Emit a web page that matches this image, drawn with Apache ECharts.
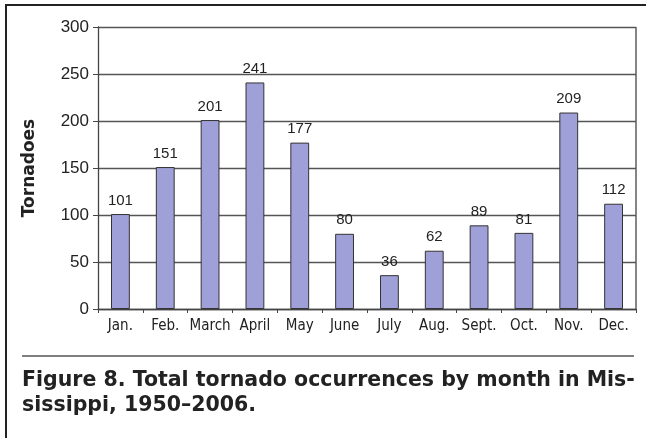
<!DOCTYPE html>
<html><head><meta charset="utf-8">
<script src="https://cdn.jsdelivr.net/npm/echarts@6/dist/echarts.min.js"></script>
<style>
html,body{margin:0;padding:0;background:#fff;}
#wrap{position:absolute;left:0;top:0;width:646px;height:438px;}
#border{position:absolute;left:5px;top:4px;width:650px;height:450px;border-left:2px solid #222;border-top:2px solid #222;}
#chart{position:absolute;left:0;top:0;width:646px;height:438px;}
</style></head>
<body>
<div id="wrap"><div id="border"></div><div id="chart"></div></div>
<script>
const categories = ['Jan.','Feb.','March','April','May','June','July','Aug.','Sept.','Oct.','Nov.','Dec.'];
const tornadoes = [101,151,201,241,177,80,36,62,89,81,209,112];
const yTicks = [0,50,100,150,200,250,300];
const yTitle = 'Tornadoes';
const captionLines = ['Figure 8. Total tornado occurrences by month in Mis-','sissippi, 1950–2006.'];

// pick a narrow font if one is installed
function has(font){
  const c=document.createElement('canvas').getContext('2d');
  c.font='40px monospace'; const a=c.measureText('MarchWwil').width;
  c.font='40px "'+font+'", monospace'; const b=c.measureText('MarchWwil').width;
  return a!==b;
}
let narrow = '"Liberation Sans", Arial, sans-serif', narrowSize = 14.5;
if (has('Liberation Sans Narrow')) { narrow='"Liberation Sans Narrow"'; narrowSize=17; }
else if (has('DejaVu Sans Condensed')) { narrow='"DejaVu Sans Condensed"'; narrowSize=15; }

const sans='"Liberation Sans", Arial, sans-serif';
const chart = echarts.init(document.getElementById('chart'), null, {renderer:'canvas'});
chart.setOption({
  animation:false,
  grid:{left:98,right:10,top:27,bottom:129,containLabel:false},
  xAxis:{type:'category',data:categories,
    axisLine:{lineStyle:{color:'#444',width:1.3}},
    axisTick:{show:true,length:4,lineStyle:{color:'#444'}},
    axisLabel:{interval:0,color:'#222',fontSize:narrowSize,fontFamily:narrow,margin:10}},
  yAxis:{type:'value',min:yTicks[0],max:yTicks[yTicks.length-1],interval:50,
    name:yTitle,nameLocation:'middle',nameGap:60,
    nameTextStyle:{fontSize:17,fontWeight:'bold',color:'#222',fontFamily:'"DejaVu Sans", sans-serif'},
    axisLine:{show:true,lineStyle:{color:'#444',width:1.3}},
    axisTick:{show:true,length:5,lineStyle:{color:'#444'}},
    axisLabel:{color:'#222',fontSize:17,fontFamily:sans,margin:9},
    splitLine:{lineStyle:{color:'#555',width:1.4}}},
  series:[{type:'bar',data:tornadoes,barWidth:'42%',
    itemStyle:{color:'#a0a0d9',borderColor:'#333',borderWidth:1},
    label:{show:true,position:'top',distance:6,color:'#222',fontSize:15,fontFamily:sans}}],
  graphic:[
    {type:'line',shape:{x1:636,y1:27,x2:636,y2:309},style:{stroke:'#444',lineWidth:1.3}},
    {type:'line',shape:{x1:22,y1:356,x2:634,y2:356},style:{stroke:'#555',lineWidth:1.5}},
    {type:'text',left:22,top:368,style:{text:captionLines.join('\n'),fontSize:20.5,fontWeight:'bold',lineHeight:25,fill:'#222',fontFamily:'"DejaVu Sans", sans-serif'}}
  ]
});
</script>
</body></html>
